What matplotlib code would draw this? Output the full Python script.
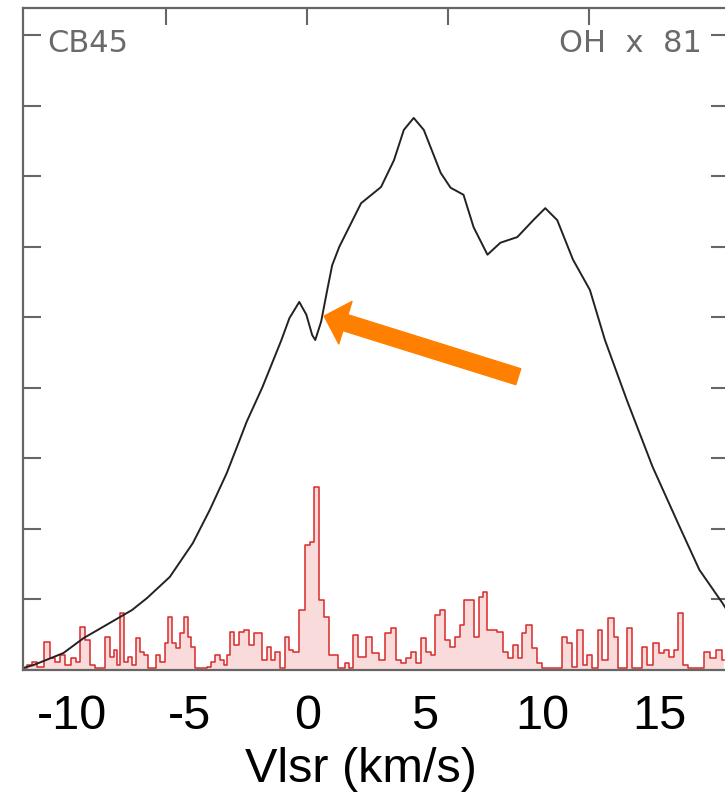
import matplotlib
matplotlib.use("Agg")
import matplotlib.pyplot as plt
from matplotlib.patches import FancyArrowPatch, ArrowStyle

plt.rcParams['axes.unicode_minus'] = False

# smooth emission profile (black), velocity in km/s
em_v = [-12.08, -11.65, -10.38, -9.53, -8.39, -7.46, -6.82, -5.85, -4.87, -4.15,
        -3.43, -2.88, -2.58, -1.91, -1.10, -0.76, -0.34, -0.04, 0.21, 0.34,
        0.59, 0.85, 1.06, 1.36, 1.78, 2.29, 3.14, 3.69, 4.11, 4.53,
        4.96, 5.68, 6.10, 6.65, 7.08, 7.67, 8.22, 8.94, 9.62, 10.13,
        10.64, 11.31, 12.03, 12.67, 13.60, 14.70, 15.85, 16.69, 17.67, 17.95]
em_t = [0.03, 0.07, 0.24, 0.45, 0.67, 0.85, 1.02, 1.32, 1.80, 2.27,
        2.79, 3.26, 3.52, 4.01, 4.68, 4.99, 5.22, 5.04, 4.75, 4.68,
        4.94, 5.39, 5.74, 6.00, 6.28, 6.62, 6.85, 7.23, 7.66, 7.83,
        7.66, 7.05, 6.84, 6.74, 6.28, 5.89, 6.06, 6.14, 6.38, 6.55,
        6.38, 5.82, 5.39, 4.68, 3.83, 2.88, 2.03, 1.42, 0.95, 0.80]

# OH spectrum scaled x81 (red, channel histogram)
oh_v = [-12.08, -11.82, -11.61, -11.36, -11.06, -10.85, -10.64, -10.42, -10.17, -9.92,
        -9.75, -9.58, -9.36, -9.15, -8.94, -8.73, -8.52, -8.31, -8.18, -8.05,
        -7.88, -7.71, -7.54, -7.37, -7.20, -7.03, -6.91, -6.69, -6.53, -6.36,
        -6.14, -5.97, -5.85, -5.68, -5.51, -5.34, -5.17, -5.00, -4.87, -4.70,
        -4.53, -4.36, -4.19, -4.03, -3.81, -3.60, -3.47, -3.35, -3.22, -3.01,
        -2.80, -2.58, -2.37, -2.16, -2.03, -1.82, -1.61, -1.44, -1.27, -1.06,
        -0.85, -0.68, -0.51, -0.21, 0.04, 0.21, 0.38, 0.59, 0.81, 1.02,
        1.19, 1.40, 1.53, 1.69, 1.86, 2.03, 2.33, 2.63, 2.92, 3.18,
        3.47, 3.69, 3.90, 4.11, 4.32, 4.53, 4.75, 4.96, 5.17, 5.34,
        5.51, 5.76, 5.97, 6.19, 6.40, 6.57, 6.74, 6.99, 7.20, 7.42,
        7.58, 7.75, 7.97, 8.22, 8.43, 8.64, 8.86, 9.07, 9.19, 9.45,
        9.66, 9.87, 10.08, 10.30, 10.51, 10.72, 10.93, 11.14, 11.36, 11.61,
        11.82, 12.03, 12.25, 12.46, 12.67, 12.97, 13.14, 13.31, 13.52, 13.73,
        13.94, 14.15, 14.36, 14.58, 14.87, 15.08, 15.30, 15.51, 15.68, 15.89,
        16.10, 16.31, 16.53, 16.74, 17.03, 17.25, 17.54, 17.75]
oh_t = [0.03, 0.07, 0.11, 0.04, 0.40, 0.17, 0.11, 0.21, 0.07, 0.17,
        0.11, 0.61, 0.43, 0.07, 0.03, 0.03, 0.47, 0.18, 0.28, 0.07,
        0.81, 0.11, 0.18, 0.07, 0.45, 0.26, 0.21, 0.03, 0.03, 0.21,
        0.11, 0.38, 0.75, 0.38, 0.31, 0.52, 0.75, 0.47, 0.33, 0.03,
        0.03, 0.03, 0.04, 0.11, 0.21, 0.14, 0.07, 0.21, 0.54, 0.35,
        0.54, 0.57, 0.35, 0.52, 0.52, 0.14, 0.33, 0.14, 0.26, 0.03,
        0.47, 0.28, 0.26, 0.85, 1.77, 1.82, 2.60, 0.99, 0.75, 0.21,
        0.21, 0.03, 0.03, 0.10, 0.03, 0.50, 0.18, 0.47, 0.24, 0.14,
        0.52, 0.60, 0.14, 0.10, 0.17, 0.26, 0.10, 0.45, 0.26, 0.21,
        0.78, 0.85, 0.43, 0.33, 0.47, 0.64, 0.99, 0.99, 0.47, 1.04,
        1.11, 0.57, 0.57, 0.54, 0.26, 0.17, 0.35, 0.17, 0.52, 0.64,
        0.31, 0.10, 0.03, 0.03, 0.03, 0.03, 0.47, 0.38, 0.04, 0.57,
        0.07, 0.21, 0.03, 0.57, 0.14, 0.74, 0.47, 0.03, 0.03, 0.60,
        0.03, 0.03, 0.33, 0.07, 0.38, 0.24, 0.28, 0.18, 0.28, 0.81,
        0.07, 0.03, 0.03, 0.03, 0.26, 0.17, 0.28, 0.14]

xticks = [-10, -5, 0, 5, 10, 15]
top_ticks = [-6, 0, 6, 12]
yticks = [1, 2, 3, 4, 5, 6, 7, 8, 9]

fig = plt.figure(figsize=(7.25, 7.94), dpi=100)
ax = fig.add_axes([0.0317, 0.1562, 0.9738, 0.8338])

ax.fill_between(oh_v, 0, oh_t, step='mid', color='#f3a6a6', alpha=0.4, lw=0)
ax.step(oh_v, oh_t, where='mid', color='#d82a2a', lw=1.1)
ax.plot(em_v, em_t, color='#222222', lw=1.4)

# arrow pointing at the dip in the profile
arr = FancyArrowPatch((8.98, 4.16), (0.72, 5.02),
                      arrowstyle=ArrowStyle.Simple(head_length=0.8, head_width=1.6, tail_width=0.6),
                      mutation_scale=20, color='#ff7f00', shrinkA=0, shrinkB=0, zorder=5)
ax.add_patch(arr)

ax.set_xlim(-12.1, 17.95)
ax.set_ylim(0, 9.39)

ax.set_xticks(xticks)
ax.set_xticklabels([str(t) for t in xticks])
ax.set_yticks(yticks)
ax.tick_params(axis='x', length=0, pad=17, labelsize=35)
ax.tick_params(axis='y', direction='in', length=13, width=1.5, color='#666666',
               left=True, right=True, labelleft=False)
for s in ax.spines.values():
    s.set_color('#666666')
    s.set_linewidth(1.6)
for lab in ax.get_xticklabels():
    lab.set_family('Liberation Sans')

top = ax.secondary_xaxis('top')
top.set_xticks(top_ticks)
top.tick_params(direction='in', length=12, width=1.5, color='#666666', labeltop=False)
top.spines['top'].set_visible(False)

ax.set_xlabel('Vlsr (km/s)', fontsize=35, family='Liberation Sans')
ax.xaxis.set_label_coords(0.479, -0.117)

ax.text(0.034, 0.968, 'CB45', transform=ax.transAxes, fontsize=22,
        color='#6a6a6a', va='top', ha='left')
ax.text(0.962, 0.968, 'OH  x  81', transform=ax.transAxes, fontsize=22,
        color='#6a6a6a', va='top', ha='right')

fig.savefig('out.png', dpi=100)
